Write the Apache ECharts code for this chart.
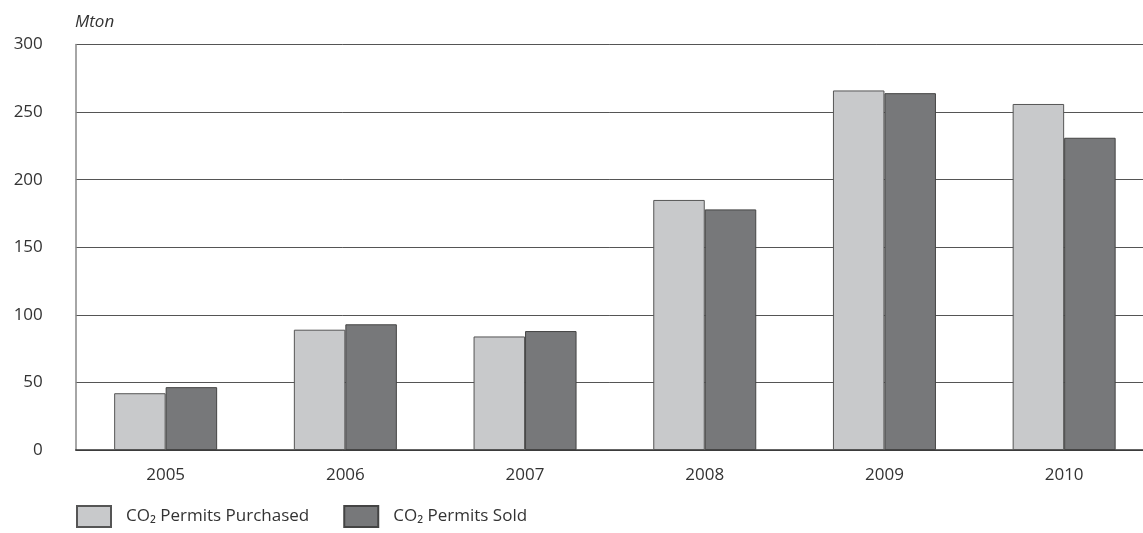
<!DOCTYPE html>
<html><head><meta charset="utf-8">
<script src="https://cdn.jsdelivr.net/npm/echarts@6/dist/echarts.min.js"></script>
<style>html,body{margin:0;padding:0;background:#fff;overflow:hidden}#c{width:1143px;height:533px}</style>
</head><body><div id="c"></div>
<script>
const categories = ['2005','2006','2007','2008','2009','2010'];
const purchased = [42, 89, 84, 185, 266, 256];
const sold = [46.5, 93, 88, 178, 264, 231];
const yTicks = [0, 50, 100, 150, 200, 250, 300];
const seriesNames = ['CO₂ Permits Purchased', 'CO₂ Permits Sold'];

const font = '"Open Sans", "DejaVu Sans", sans-serif';
const chart = echarts.init(document.getElementById('c'), null, {renderer: 'canvas'});
chart.setOption({
  animation: false,
  backgroundColor: '#fff',
  textStyle: {fontFamily: font},
  grid: {left: 75.8, top: 44.5, width: 1078.2, height: 405.5, containLabel: false, outerBoundsMode: 'none'},
  title: {text: 'Mton', left: 75, top: 14, padding: 0,
    textStyle: {fontFamily: font, fontStyle: 'italic', fontWeight: 'normal', fontSize: 17, color: '#333'}},
  legend: {
    left: 76, top: 505, padding: 0, itemGap: 34, itemWidth: 34, itemHeight: 21,
    icon: 'rect',
    data: seriesNames,
    textStyle: {fontFamily: font, fontSize: 17, color: '#333', padding: [3, 0, 0, 10]}
  },
  xAxis: {
    type: 'category', data: categories,
    axisTick: {show: false},
    axisLine: {lineStyle: {color: '#333', width: 1.5}},
    axisLabel: {fontFamily: font, fontSize: 17, color: '#333', margin: 17}
  },
  yAxis: {
    type: 'value', min: 0, max: 300, interval: 50,
    axisLine: {show: true, lineStyle: {color: '#888', width: 1.5}},
    axisTick: {show: false},
    axisLabel: {fontFamily: font, fontSize: 17, color: '#333', margin: 33,
      formatter: v => yTicks.includes(v) ? String(v) : ''},
    splitLine: {lineStyle: {color: '#555', width: 1}}
  },
  series: [
    {name: seriesNames[0], type: 'bar', data: purchased, barWidth: 51.5, barGap: '0%',
      itemStyle: {color: '#c8c9cb', borderColor: '#555', borderWidth: 1}},
    {name: seriesNames[1], type: 'bar', data: sold, barWidth: 51.5, barGap: '0%',
      itemStyle: {color: '#77787a', borderColor: '#444', borderWidth: 1}}
  ]
});
</script></body></html>
